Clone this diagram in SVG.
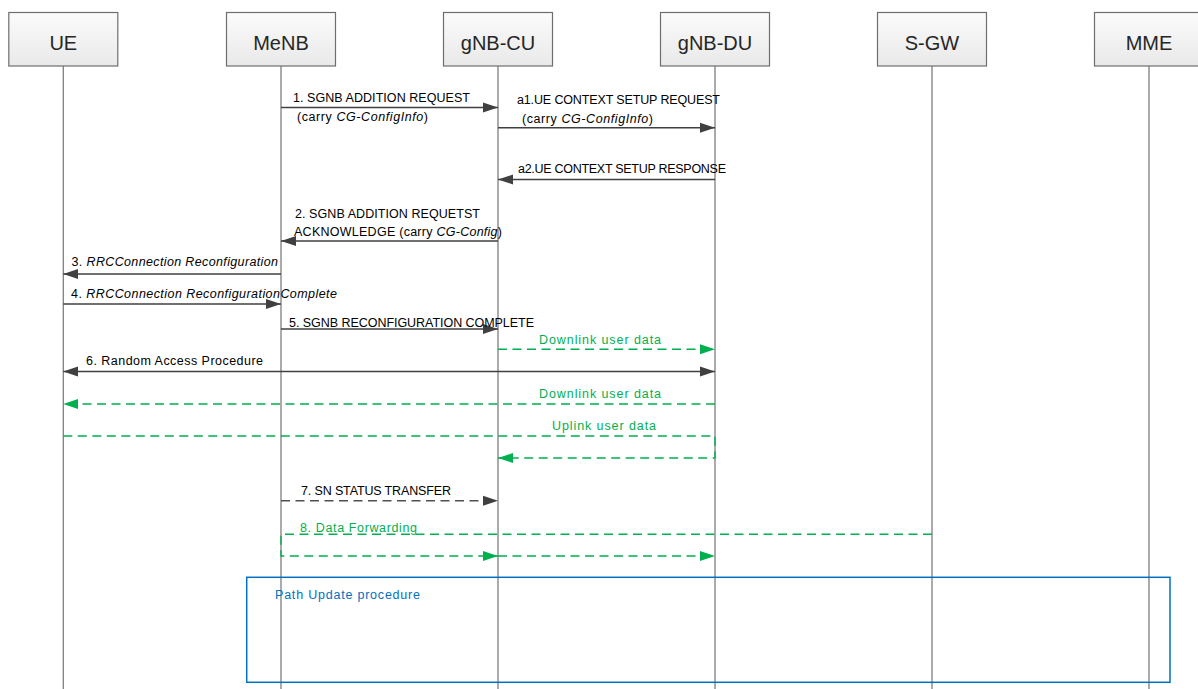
<svg xmlns="http://www.w3.org/2000/svg" width="1198" height="689" viewBox="0 0 1198 689">
<style>
.box{fill:url(#g);stroke:#6e6e6e;stroke-width:1.2}
.title{font-family:"Liberation Sans",Arial,sans-serif;font-size:20px;fill:#262626;text-anchor:middle}
.life{stroke:#7f7f7f;stroke-width:1.3;fill:none}
.lbl{font-family:"Liberation Sans",Arial,sans-serif;font-size:12.5px;fill:#000}
.g{fill:#00b050}
.b{fill:#0070c0}
.it{font-style:italic}
.msg{stroke:#404040;stroke-width:1.4;fill:none}
.gd{stroke:#00b050;stroke-width:1.4;fill:none;stroke-dasharray:9 5.5}
.kd{stroke:#505050;stroke-width:1.4;fill:none;stroke-dasharray:9 5.5}
</style>
<defs>
<linearGradient id="g" x1="0" y1="0" x2="0" y2="1">
<stop offset="0" stop-color="#fbfbfb"/>
<stop offset="1" stop-color="#e9e9e9"/>
</linearGradient>
<marker id="ak" markerUnits="userSpaceOnUse" markerWidth="16" markerHeight="12" refX="15" refY="5" orient="auto-start-reverse" viewBox="0 0 16 10">
<path d="M0,0 L15,5 L0,10 Z" fill="#404040"/>
</marker>
<marker id="ag" markerUnits="userSpaceOnUse" markerWidth="16" markerHeight="12" refX="15" refY="5" orient="auto-start-reverse" viewBox="0 0 16 10">
<path d="M0,0 L15,5 L0,10 Z" fill="#00b050"/>
</marker>
</defs>
<rect width="1198" height="689" fill="#fff"/>

<g id="lifelines">
<path class="life" d="M63.3,66 V689 M281,66 V689 M498,66 V689 M715,66 V689 M932,66 V689 M1149,66 V689"/>
</g>

<g id="UE"><rect class="box" x="8.8" y="12.5" width="109" height="53.5"/><text class="title" x="63.3" y="49.5">UE</text></g>
<g id="MeNB"><rect class="box" x="226.5" y="12.5" width="109" height="53.5"/><text class="title" x="281" y="49.5">MeNB</text></g>
<g id="gNB-CU"><rect class="box" x="443.5" y="12.5" width="109" height="53.5"/><text class="title" x="498" y="49.5">gNB-CU</text></g>
<g id="gNB-DU"><rect class="box" x="660.5" y="12.5" width="109" height="53.5"/><text class="title" x="715" y="49.5">gNB-DU</text></g>
<g id="S-GW"><rect class="box" x="877.5" y="12.5" width="109" height="53.5"/><text class="title" x="932" y="49.5">S-GW</text></g>
<g id="MME"><rect class="box" x="1094.5" y="12.5" width="109" height="53.5"/><text class="title" x="1149" y="49.5">MME</text></g>

<g id="path-update">
<rect x="246.7" y="577.3" width="923.3" height="105" fill="none" stroke="#0070c0" stroke-width="1.5"/>
<text class="lbl b" x="275" y="598.5" textLength="145" lengthAdjust="spacing">Path Update procedure</text>
</g>

<g id="connectors">
<path class="msg" d="M281,107.5 H498" marker-end="url(#ak)"/>
<path class="msg" d="M498,127.7 H715" marker-end="url(#ak)"/>
<path class="msg" d="M715,179.5 H498" marker-end="url(#ak)"/>
<path class="msg" d="M498,241 H281" marker-end="url(#ak)"/>
<path class="msg" d="M281,274 H63.3" marker-end="url(#ak)"/>
<path class="msg" d="M63.3,304 H281" marker-end="url(#ak)"/>
<path class="msg" d="M281,329 H498" marker-end="url(#ak)"/>
<path class="gd" d="M498,349.3 H715" marker-end="url(#ag)"/>
<path class="msg" d="M63.3,371.5 H715" marker-start="url(#ak)" marker-end="url(#ak)"/>
<path class="gd" d="M715,404 H63.3" marker-end="url(#ag)"/>
<path class="gd" d="M63.3,436 H715 V458 H498" marker-end="url(#ag)"/>
<path class="kd" d="M281,500.7 H498" marker-end="url(#ak)"/>
<path class="gd" d="M932,534.3 H281 V556 H498" marker-end="url(#ag)"/>
<path class="gd" d="M498,556 H715" marker-end="url(#ag)"/>
</g>

<g id="labels">
<text class="lbl" x="293" y="102" textLength="177" lengthAdjust="spacing">1. SGNB ADDITION REQUEST</text>
<text class="lbl" x="297" y="121" textLength="131" lengthAdjust="spacing">(carry  <tspan class="it">CG-ConfigInfo</tspan>)</text>
<text class="lbl" x="517" y="104" textLength="203" lengthAdjust="spacing">a1.UE CONTEXT SETUP REQUEST</text>
<text class="lbl" x="522" y="123" textLength="131" lengthAdjust="spacing">(carry  <tspan class="it">CG-ConfigInfo</tspan>)</text>
<text class="lbl" x="518" y="172.5" textLength="208" lengthAdjust="spacing">a2.UE CONTEXT SETUP RESPONSE</text>
<text class="lbl" x="295" y="217.5" textLength="185" lengthAdjust="spacing">2. SGNB ADDITION REQUETST</text>
<text class="lbl" x="294" y="236" textLength="208" lengthAdjust="spacing">ACKNOWLEDGE (carry <tspan class="it">CG-Config</tspan>)</text>
<text class="lbl" x="71.5" y="266" textLength="206.5" lengthAdjust="spacing">3. <tspan class="it">RRCConnection Reconfiguration</tspan></text>
<text class="lbl" x="71" y="297.5" textLength="266" lengthAdjust="spacing">4. <tspan class="it">RRCConnection ReconfigurationComplete</tspan></text>
<text class="lbl" x="289" y="327" textLength="245" lengthAdjust="spacing">5. SGNB RECONFIGURATION COMPLETE</text>
<text class="lbl g" x="539" y="343.5" textLength="122" lengthAdjust="spacing">Downlink user  data</text>
<text class="lbl" x="86" y="365" textLength="177" lengthAdjust="spacing">6. Random  Access Procedure</text>
<text class="lbl g" x="539" y="397.5" textLength="122" lengthAdjust="spacing">Downlink user  data</text>
<text class="lbl g" x="552" y="430" textLength="104" lengthAdjust="spacing">Uplink user  data</text>
<text class="lbl" x="301" y="494.5" textLength="150" lengthAdjust="spacing">7. SN STATUS TRANSFER</text>
<text class="lbl g" x="300" y="531.5" textLength="117" lengthAdjust="spacing">8. Data Forwarding</text>
</g>
</svg>
